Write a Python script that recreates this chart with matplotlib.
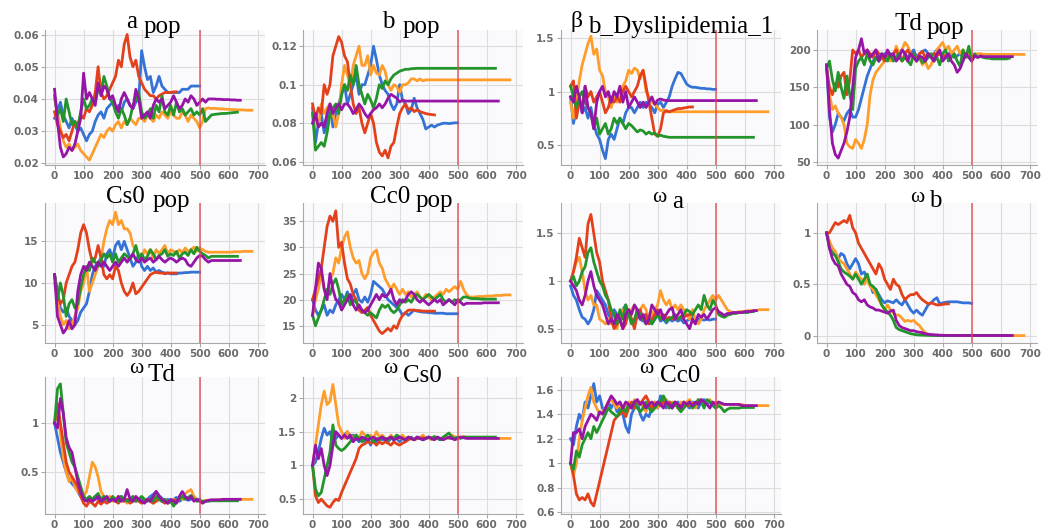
import numpy as np
import matplotlib.pyplot as plt
from matplotlib import transforms
from matplotlib.ticker import FuncFormatter

plt.rcParams['font.family'] = 'DejaVu Sans'
plt.rcParams['font.weight'] = 'bold'

# iteration grid shared by all chains (every 10th iteration)
ITER = np.arange(0, 700, 10)

# ---- a pop ----
apop_blue = [0.034, 0.036, 0.039, 0.035, 0.033, 0.031, 0.034, 0.032, 0.030, 0.031,
             0.029, 0.027, 0.029, 0.030, 0.033, 0.035, 0.036, 0.034, 0.037, 0.038,
             0.039, 0.037, 0.038, 0.036, 0.039, 0.040, 0.038, 0.037, 0.039, 0.040,
             0.055, 0.050, 0.046, 0.047, 0.042, 0.044, 0.047, 0.044, 0.043, 0.042,
             0.042, 0.042, 0.042, 0.042, 0.043, 0.043, 0.043, 0.044, 0.044, 0.044,
             0.044]
apop_orange = [0.040, 0.036, 0.031, 0.027, 0.025, 0.026, 0.024, 0.025, 0.026, 0.024,
               0.023, 0.022, 0.021, 0.023, 0.025, 0.027, 0.029, 0.028, 0.030, 0.031,
               0.030, 0.032, 0.033, 0.031, 0.033, 0.032, 0.034, 0.033, 0.032, 0.034,
               0.034, 0.033, 0.035, 0.034, 0.033, 0.035, 0.034, 0.036, 0.035, 0.034,
               0.036, 0.035, 0.034, 0.034, 0.036, 0.035, 0.033, 0.035, 0.034, 0.033,
               0.031, 0.033, 0.037, 0.0372, 0.037, 0.0371, 0.037, 0.0369, 0.0369, 0.0368,
               0.0368, 0.0367, 0.0367, 0.0366, 0.0366, 0.0366, 0.0365, 0.0365, 0.0365]
apop_red = [0.036, 0.032, 0.030, 0.028, 0.029, 0.027, 0.030, 0.033, 0.032, 0.035,
            0.034, 0.037, 0.036, 0.038, 0.042, 0.050, 0.042, 0.040, 0.041, 0.043,
            0.045, 0.047, 0.052, 0.050, 0.057, 0.060, 0.053, 0.050, 0.052, 0.047,
            0.045, 0.043, 0.042, 0.041, 0.041, 0.040, 0.041, 0.0415, 0.042, 0.042,
            0.042, 0.0422, 0.0422]
apop_green = [0.041, 0.035, 0.037, 0.033, 0.040, 0.036, 0.032, 0.033, 0.031, 0.036,
              0.040, 0.037, 0.038, 0.040, 0.039, 0.043, 0.042, 0.047, 0.044, 0.040,
              0.039, 0.036, 0.034, 0.037, 0.035, 0.032, 0.034, 0.038, 0.040, 0.042,
              0.036, 0.034, 0.035, 0.037, 0.034, 0.038, 0.036, 0.041, 0.036, 0.035,
              0.038, 0.035, 0.039, 0.036, 0.037, 0.035, 0.036, 0.037, 0.035, 0.036,
              0.035, 0.037, 0.033, 0.034, 0.035, 0.0352, 0.0353, 0.0354, 0.0355, 0.0355,
              0.0356, 0.0357, 0.0358, 0.0359]
apop_purple = [0.043, 0.033, 0.025, 0.022, 0.023, 0.025, 0.024, 0.026, 0.030, 0.034,
               0.048, 0.040, 0.042, 0.040, 0.038, 0.045, 0.041, 0.044, 0.043, 0.040,
               0.041, 0.038, 0.036, 0.040, 0.042, 0.040, 0.038, 0.037, 0.043, 0.040,
               0.034, 0.035, 0.036, 0.034, 0.038, 0.040, 0.039, 0.040, 0.037, 0.038,
               0.039, 0.041, 0.039, 0.037, 0.038, 0.040, 0.039, 0.041, 0.040, 0.038,
               0.039, 0.040, 0.039, 0.040, 0.040, 0.040, 0.0399, 0.0399, 0.0398, 0.0398,
               0.0398, 0.0397, 0.0397, 0.0396, 0.0396]

# ---- b pop ----
bpop_blue = [0.088, 0.070, 0.080, 0.085, 0.075, 0.080, 0.090, 0.078, 0.085, 0.090,
             0.095, 0.100, 0.090, 0.095, 0.100, 0.105, 0.095, 0.100, 0.100, 0.105,
             0.110, 0.120, 0.113, 0.105, 0.100, 0.097, 0.095, 0.090, 0.087, 0.090,
             0.100, 0.092, 0.090, 0.085, 0.087, 0.093, 0.088, 0.085, 0.082, 0.077,
             0.078, 0.079, 0.078, 0.079, 0.0795, 0.080, 0.080, 0.0798, 0.080, 0.0802,
             0.0802]
bpop_orange = [0.080, 0.083, 0.078, 0.090, 0.085, 0.088, 0.090, 0.085, 0.078, 0.085,
               0.100, 0.110, 0.105, 0.100, 0.110, 0.115, 0.120, 0.110, 0.110, 0.115,
               0.105, 0.110, 0.106, 0.105, 0.110, 0.107, 0.100, 0.097, 0.100, 0.099,
               0.096, 0.100, 0.100, 0.101, 0.103, 0.103, 0.102, 0.103, 0.102, 0.1025,
               0.1025, 0.1025, 0.1025, 0.1025, 0.1025, 0.1025, 0.1025, 0.1025, 0.1025, 0.1025,
               0.1025, 0.1025, 0.1025, 0.1025, 0.1025, 0.1025, 0.1025, 0.1025, 0.1025, 0.1025,
               0.1025, 0.1025, 0.1025, 0.1025, 0.1025, 0.1025, 0.1025, 0.1025, 0.1025]
bpop_red = [0.090, 0.082, 0.088, 0.085, 0.100, 0.095, 0.100, 0.115, 0.120, 0.125,
            0.122, 0.115, 0.112, 0.100, 0.090, 0.085, 0.088, 0.080, 0.075, 0.080,
            0.085, 0.080, 0.070, 0.065, 0.063, 0.066, 0.062, 0.068, 0.070, 0.078,
            0.085, 0.088, 0.090, 0.087, 0.088, 0.086, 0.087, 0.086, 0.0855, 0.085,
            0.0847, 0.0845, 0.0843]
bpop_green = [0.085, 0.066, 0.068, 0.070, 0.068, 0.075, 0.085, 0.088, 0.090, 0.085,
              0.095, 0.100, 0.097, 0.105, 0.100, 0.110, 0.100, 0.095, 0.090, 0.095,
              0.092, 0.088, 0.093, 0.100, 0.098, 0.102, 0.100, 0.103, 0.105, 0.106,
              0.107, 0.1075, 0.108, 0.108, 0.1083, 0.1084, 0.1085, 0.1085, 0.1085, 0.1085,
              0.1085, 0.1085, 0.1085, 0.1085, 0.1085, 0.1085, 0.1085, 0.1085, 0.1085, 0.1085,
              0.1085, 0.1085, 0.1085, 0.1085, 0.1085, 0.1085, 0.1085, 0.1085, 0.1085, 0.1085,
              0.1085, 0.1085, 0.1085, 0.1085]
bpop_purple = [0.080, 0.085, 0.078, 0.080, 0.078, 0.085, 0.090, 0.085, 0.088, 0.090,
               0.087, 0.090, 0.090, 0.088, 0.085, 0.087, 0.090, 0.088, 0.085, 0.083,
               0.085, 0.087, 0.088, 0.090, 0.088, 0.090, 0.093, 0.095, 0.094, 0.093,
               0.091, 0.092, 0.0915, 0.0915, 0.0915, 0.0915, 0.0915, 0.0915, 0.0915, 0.0915,
               0.0915, 0.0915, 0.0915, 0.0915, 0.0915, 0.0915, 0.0915, 0.0915, 0.0915, 0.0915,
               0.0915, 0.0915, 0.0915, 0.0915, 0.0915, 0.0915, 0.0915, 0.0915, 0.0915, 0.0915,
               0.0915, 0.0915, 0.0915, 0.0915, 0.0915]

# ---- beta b_Dyslipidemia_1 ----
beta_blue = [0.95, 0.70, 0.85, 0.95, 0.80, 0.85, 0.75, 0.85, 0.70, 0.60,
             0.55, 0.45, 0.37, 0.55, 0.60, 0.55, 0.65, 0.75, 0.70, 0.80,
             0.85, 0.85, 0.80, 0.85, 0.90, 0.85, 0.90, 0.88, 0.85, 0.80,
             0.88, 0.90, 0.85, 0.90, 0.95, 1.05, 1.12, 1.18, 1.17, 1.12,
             1.07, 1.05, 1.04, 1.04, 1.035, 1.03, 1.03, 1.025, 1.025, 1.02,
             1.02]
beta_orange = [0.90, 0.75, 0.90, 1.10, 1.25, 1.35, 1.45, 1.52, 1.35, 1.40,
               1.20, 1.15, 1.00, 0.95, 0.85, 0.95, 0.90, 0.95, 1.05, 1.10,
               1.20, 1.17, 1.22, 1.20, 1.12, 1.20, 1.00, 0.95, 0.90, 0.88,
               0.85, 0.82, 0.83, 0.81, 0.81, 0.81, 0.81, 0.81, 0.81, 0.81,
               0.81, 0.81, 0.81, 0.81, 0.81, 0.81, 0.81, 0.81, 0.81, 0.81,
               0.81, 0.81, 0.81, 0.81, 0.81, 0.81, 0.81, 0.81, 0.81, 0.81,
               0.81, 0.81, 0.81, 0.81, 0.81, 0.81, 0.81, 0.81, 0.81]
beta_red = [1.05, 1.10, 0.75, 0.90, 0.85, 1.05, 0.95, 1.00, 0.90, 0.95,
            1.00, 0.90, 0.80, 0.85, 0.95, 0.90, 0.95, 0.90, 1.00, 1.05,
            1.00, 0.95, 1.00, 1.05, 1.15, 1.20, 1.05, 0.90, 0.75, 0.60,
            0.58, 0.65, 0.80, 0.82, 0.81, 0.82, 0.83, 0.84, 0.84, 0.845,
            0.85, 0.855, 0.855]
beta_green = [1.05, 0.95, 0.85, 0.95, 1.00, 0.90, 0.85, 0.80, 0.65, 0.75,
              0.60, 0.65, 0.70, 0.60, 0.65, 0.75, 0.70, 0.75, 0.70, 0.65,
              0.70, 0.68, 0.65, 0.62, 0.64, 0.63, 0.60, 0.62, 0.60, 0.61,
              0.58, 0.59, 0.58, 0.575, 0.57, 0.57, 0.57, 0.57, 0.57, 0.57,
              0.57, 0.57, 0.57, 0.57, 0.57, 0.57, 0.57, 0.57, 0.57, 0.57,
              0.57, 0.57, 0.57, 0.57, 0.57, 0.57, 0.57, 0.57, 0.57, 0.57,
              0.57, 0.57, 0.57, 0.57]
beta_purple = [0.95, 0.90, 1.05, 0.95, 0.80, 1.05, 0.85, 0.80, 0.65, 0.90,
               1.00, 1.05, 0.95, 1.00, 0.90, 1.00, 0.95, 1.05, 0.90, 1.00,
               0.85, 0.90, 0.95, 0.90, 0.85, 0.90, 0.85, 0.90, 0.95, 0.88,
               0.92, 0.93, 0.92, 0.915, 0.915, 0.915, 0.915, 0.915, 0.915, 0.915,
               0.915, 0.915, 0.915, 0.915, 0.915, 0.915, 0.915, 0.915, 0.915, 0.915,
               0.915, 0.915, 0.915, 0.915, 0.915, 0.915, 0.915, 0.915, 0.915, 0.915,
               0.915, 0.915, 0.915, 0.915, 0.915]

# ---- Td pop ----
tdpop_blue = [180, 110, 90, 100, 115, 110, 105, 115, 120, 110,
              110, 120, 135, 150, 165, 175, 185, 190, 185, 190,
              195, 190, 195, 188, 190, 195, 200, 195, 190, 195,
              200, 190, 195, 198, 200, 195, 193, 195, 200, 195,
              192, 190, 195, 193, 190, 192, 195, 190, 192, 190,
              191]
tdpop_orange = [175, 140, 120, 125, 115, 110, 100, 75, 70, 68,
                80, 75, 68, 80, 100, 140, 160, 170, 175, 180,
                185, 190, 185, 190, 205, 195, 200, 210, 205, 195,
                190, 185, 190, 180, 185, 175, 180, 190, 200, 205,
                210, 200, 205, 195, 200, 205, 195, 200, 190, 195,
                190, 193, 195, 195, 194, 194, 194, 194, 194, 194,
                194, 194, 194, 194, 194, 194, 194, 194, 194]
tdpop_red = [175, 150, 140, 155, 150, 165, 170, 140, 160, 200,
             195, 200, 190, 195, 200, 195, 190, 200, 195, 190,
             185, 195, 190, 195, 200, 190, 185, 195, 200, 192,
             195, 188, 195, 198, 190, 195, 190, 195, 192, 195,
             193, 192, 193]
tdpop_green = [175, 185, 160, 145, 170, 150, 135, 165, 140, 120,
               175, 185, 190, 180, 195, 185, 180, 190, 185, 195,
               190, 185, 195, 185, 190, 195, 185, 190, 185, 180,
               195, 185, 190, 183, 185, 190, 195, 185, 190, 180,
               195, 200, 185, 190, 195, 185, 178, 200, 190, 205,
               185, 195, 190, 191, 190, 189, 189, 188, 188, 188,
               188, 188, 188, 189]
tdpop_purple = [180, 120, 75, 60, 55, 65, 75, 90, 110, 150,
                190, 200, 215, 195, 200, 190, 195, 200, 185, 195,
                190, 200, 192, 195, 185, 190, 200, 195, 185, 195,
                190, 185, 192, 190, 185, 195, 190, 185, 195, 200,
                185, 190, 195, 185, 180, 170, 175, 185, 195, 190,
                185, 192, 190, 192, 191, 191, 191, 191, 191, 191,
                191, 191, 191, 191, 191]

# ---- Cs0 pop ----
cs0pop_blue = [11, 9, 7, 6.5, 7, 6, 5.5, 5, 5.5, 6.5,
               7, 7.5, 9, 11, 12, 12.5, 13, 12, 13.5, 14,
               13, 14.5, 15, 14, 15, 14, 13, 12, 12.5, 13.5,
               12, 11.5, 12, 11.5, 11.8, 11.3, 11.5, 11.3, 11.2, 11.2,
               11.1, 11.1, 11.1, 11.2, 11.2, 11.25, 11.25, 11.3, 11.3, 11.3,
               11.3]
cs0pop_orange = [10, 8, 6, 5, 5.5, 4.5, 5, 6, 7, 9,
                 10, 12, 9, 10, 11, 12, 13, 15, 16.5, 17.5,
                 17, 18.5, 17, 17.5, 16.5, 16.5, 16, 14.5, 14, 13.5,
                 13, 14, 13.5, 14, 13, 14, 13.5, 14, 14.5, 13.5,
                 14, 13.8, 13.5, 14, 13.6, 14.2, 13.8, 14, 14.3, 13.8,
                 14.2, 14, 13.8, 13.7, 13.7, 13.7, 13.7, 13.7, 13.7, 13.7,
                 13.7, 13.7, 13.75, 13.75, 13.75, 13.8, 13.8, 13.8, 13.8]
cs0pop_red = [11, 8.5, 7.5, 8, 10, 11, 12, 12.5, 14, 16,
              17, 16, 14, 12.5, 13, 14.5, 13, 11, 10.5, 11,
              10.5, 12, 11.5, 10, 9, 8.5, 9, 10, 8.7, 9,
              9.5, 10, 10.5, 11, 11.2, 11.3, 11.2, 11.2, 11.1, 11.2,
              11.2, 11.2, 11.2]
cs0pop_green = [11, 8, 10, 8.5, 6, 7.5, 8, 7, 7.5, 9.5,
                11, 12, 11.5, 13, 12.5, 12, 12.8, 13.5, 13, 13.5,
                12.5, 13.5, 12.5, 13, 13.5, 13.2, 12.8, 13.5, 14.5, 13,
                13.5, 12.8, 13.2, 14, 13.5, 12.8, 13.3, 13.5, 14, 13.2,
                13.5, 13.3, 13.8, 13, 13.5, 13.7, 13.3, 14, 13.5, 14.3,
                13.8, 13.5, 13.3, 13, 13.2, 13.2, 13.2, 13.2, 13.2, 13.2,
                13.2, 13.2, 13.2, 13.2]
cs0pop_purple = [11, 6, 5, 4, 4.5, 5.5, 4.5, 5, 9, 11,
                 12, 11.5, 12.5, 12, 11.5, 12.5, 12, 12.5, 12, 11.5,
                 12, 12.5, 12, 12.5, 13, 12.5, 13, 13.5, 12.8, 12.5,
                 13, 12.5, 12.8, 13, 12.5, 12.8, 13.2, 12.8, 12.5, 12.8,
                 13, 12.8, 12.5, 12.8, 13, 12.8, 12.2, 12, 12.5, 13,
                 13.3, 13.2, 12.8, 12.5, 12.7, 12.7, 12.7, 12.7, 12.7, 12.7,
                 12.7, 12.7, 12.7, 12.7, 12.7]

# ---- Cc0 pop ----
cc0pop_blue = [20, 18, 17, 18, 19, 17, 18, 17.5, 19, 20,
               21, 20, 21.5, 20, 21, 22, 20, 19.5, 20.5, 19.5,
               21, 23.5, 23, 22.5, 22, 21, 20, 19.5, 19, 18.5,
               18, 17, 17.5, 17, 17.5, 18, 17.8, 17.7, 17.6, 17.6,
               17.5, 17.5, 17.4, 17.4, 17.4, 17.4, 17.3, 17.3, 17.3, 17.3,
               17.3]
cc0pop_orange = [17, 20, 22, 25, 22, 21, 24, 25, 28, 27,
                 30, 32, 33, 30, 28, 27, 27.5, 25, 24, 25,
                 28, 29, 29.5, 27, 26, 24, 23, 22, 23, 22,
                 21, 22, 21, 21.5, 20.5, 21, 21.5, 20.5, 20, 21,
                 20.5, 20, 20.5, 21, 21.5, 21, 22, 21.5, 22, 22.5,
                 22, 23.5, 22, 21, 20.5, 20.5, 20.5, 20.6, 20.6, 20.6,
                 20.7, 20.7, 20.7, 20.8, 20.8, 20.8, 20.9, 20.9, 20.9]
cc0pop_red = [20, 22, 24, 26, 30, 34, 36, 35, 37, 30,
              31, 27, 24, 23, 21, 20, 18, 17.5, 18, 18.5,
              17, 16, 15, 14, 13.5, 14, 14.5, 14, 15, 14.5,
              16, 17, 17.5, 18, 18, 18, 17.9, 17.9, 17.8, 17.8,
              17.8, 17.8, 17.8]
cc0pop_green = [17, 15, 16.5, 18, 20, 22, 21, 23, 24, 22,
                19, 20, 21, 19, 20, 19.5, 18.5, 18, 17.5, 17,
                17.5, 17, 16.5, 18, 19, 18.5, 19, 18, 17.5, 18,
                19, 20, 19.5, 20, 19.5, 20.5, 21, 20.5, 20, 20.5,
                21, 20.5, 20, 20.5, 21, 20, 19.5, 20, 19.5, 20,
                19.5, 20, 20.5, 20.5, 20.3, 20.2, 20.2, 20.2, 20.1, 20.1,
                20.1, 20.1, 20.1, 20.1]
cc0pop_purple = [17, 22, 27, 26, 22, 20, 25, 22, 20, 19.5,
                 18, 19, 20, 21, 19, 18, 19, 18, 17.5, 18,
                 19, 20, 21, 20, 21, 20.5, 21, 22, 20, 19,
                 20, 19.5, 20, 21, 21.5, 21, 20, 19.5, 20, 19.5,
                 19, 19.5, 20, 19.5, 20, 19, 19.5, 20, 19.5, 19,
                 20, 19.5, 19, 19.3, 19.3, 19.3, 19.3, 19.3, 19.3, 19.4,
                 19.4, 19.4, 19.4, 19.4, 19.4]

# ---- omega a ----
wa_blue = [0.95, 0.85, 0.80, 0.70, 0.62, 0.60, 0.55, 0.60, 0.70, 0.90,
           0.85, 0.80, 0.75, 0.65, 0.60, 0.70, 0.65, 0.60, 0.70, 0.75,
           0.65, 0.60, 0.55, 0.65, 0.60, 0.58, 0.65, 0.60, 0.55, 0.60,
           0.65, 0.58, 0.60, 0.56, 0.60, 0.58, 0.60, 0.58, 0.60, 0.56,
           0.58, 0.60, 0.62, 0.58, 0.60, 0.60, 0.59, 0.60, 0.59, 0.60,
           0.60]
wa_orange = [1.00, 1.10, 1.20, 1.25, 1.10, 0.90, 0.80, 0.85, 0.75, 0.75,
             0.60, 0.58, 0.55, 0.60, 0.55, 0.60, 0.50, 0.65, 0.70, 0.60,
             0.65, 0.70, 0.75, 0.65, 0.70, 0.75, 0.70, 0.60, 0.65, 0.70,
             0.75, 0.90, 0.80, 0.75, 0.80, 0.70, 0.75, 0.70, 0.75, 0.70,
             0.65, 0.60, 0.70, 0.60, 0.55, 0.60, 0.70, 0.75, 0.80, 0.85,
             0.80, 0.85, 0.80, 0.75, 0.70, 0.68, 0.67, 0.67, 0.68, 0.68,
             0.68, 0.69, 0.69, 0.69, 0.69, 0.70, 0.70, 0.70, 0.70]
wa_red = [1.00, 1.10, 1.25, 1.45, 1.35, 1.25, 1.60, 1.70, 1.50, 1.30,
          1.20, 1.00, 0.90, 0.80, 0.60, 0.50, 0.55, 0.60, 0.50, 0.55,
          0.70, 0.60, 0.50, 0.65, 0.70, 0.60, 0.65, 0.55, 0.60, 0.65,
          0.70, 0.60, 0.65, 0.60, 0.62, 0.60, 0.62, 0.60, 0.63, 0.62,
          0.64, 0.65, 0.65]
wa_green = [1.00, 1.05, 0.95, 1.00, 1.10, 1.15, 1.30, 1.35, 1.20, 1.10,
            1.00, 0.95, 0.85, 0.80, 0.70, 0.65, 0.55, 0.70, 0.60, 0.75,
            0.65, 0.55, 0.60, 0.70, 0.65, 0.60, 0.55, 0.60, 0.55, 0.60,
            0.65, 0.60, 0.62, 0.58, 0.60, 0.62, 0.65, 0.60, 0.62, 0.65,
            0.70, 0.68, 0.65, 0.70, 0.75, 0.70, 0.85, 0.75, 0.70, 0.80,
            0.75, 0.65, 0.63, 0.62, 0.64, 0.65, 0.66, 0.66, 0.67, 0.67,
            0.67, 0.67, 0.68, 0.68]
wa_purple = [1.00, 0.95, 0.90, 0.80, 0.75, 0.85, 1.00, 1.10, 0.95, 0.85,
             0.80, 0.75, 0.65, 0.55, 0.60, 0.55, 0.65, 0.60, 0.50, 0.65,
             0.70, 0.65, 0.75, 0.70, 0.60, 0.65, 0.55, 0.60, 0.75, 0.70,
             0.65, 0.70, 0.60, 0.65, 0.70, 0.72, 0.60, 0.65, 0.70, 0.60,
             0.55, 0.50, 0.60, 0.55, 0.65, 0.62, 0.65, 0.60, 0.65, 0.70,
             0.72, 0.68, 0.66, 0.64, 0.66, 0.66, 0.67, 0.67, 0.67, 0.67,
             0.68, 0.68, 0.68, 0.69, 0.69]

# ---- omega b ----
wb_blue = [1.00, 0.90, 0.85, 0.80, 0.75, 0.80, 0.78, 0.70, 0.65, 0.70,
           0.75, 0.70, 0.60, 0.62, 0.55, 0.50, 0.42, 0.45, 0.40, 0.35,
           0.32, 0.34, 0.33, 0.32, 0.35, 0.32, 0.30, 0.35, 0.30, 0.25,
           0.22, 0.25, 0.22, 0.20, 0.25, 0.30, 0.32, 0.35, 0.37, 0.31,
           0.32, 0.325, 0.33, 0.33, 0.33, 0.33, 0.325, 0.32, 0.32, 0.32,
           0.315]
wb_orange = [1.00, 0.92, 0.85, 0.82, 0.75, 0.72, 0.70, 0.65, 0.60, 0.55,
             0.62, 0.58, 0.55, 0.50, 0.55, 0.48, 0.45, 0.40, 0.35, 0.30,
             0.25, 0.30, 0.25, 0.22, 0.20, 0.20, 0.17, 0.14, 0.15, 0.14,
             0.15, 0.12, 0.10, 0.06, 0.03, 0.015, 0.01, 0.005, 0.003, 0.002,
             0.002, 0.002, 0.002, 0.002, 0.002, 0.002, 0.002, 0.002, 0.002, 0.002,
             0.002, 0.002, 0.002, 0.002, 0.002, 0.002, 0.002, 0.002, 0.002, 0.002,
             0.002, 0.002, 0.002, 0.002, 0.002, 0.002, 0.002, 0.002, 0.002]
wb_red = [1.00, 1.00, 1.05, 1.10, 1.08, 1.10, 1.12, 1.10, 1.17, 1.05,
          1.00, 0.90, 0.85, 0.80, 0.75, 0.70, 0.65, 0.60, 0.70, 0.65,
          0.55, 0.50, 0.45, 0.55, 0.50, 0.48, 0.40, 0.35, 0.38, 0.40,
          0.40, 0.42, 0.38, 0.35, 0.33, 0.31, 0.32, 0.31, 0.30, 0.30,
          0.305, 0.31, 0.31]
wb_green = [1.00, 0.85, 0.80, 0.78, 0.72, 0.65, 0.62, 0.60, 0.58, 0.55,
            0.60, 0.55, 0.50, 0.55, 0.60, 0.50, 0.48, 0.45, 0.38, 0.30,
            0.26, 0.23, 0.20, 0.15, 0.08, 0.06, 0.05, 0.04, 0.03, 0.02,
            0.015, 0.01, 0.008, 0.006, 0.005, 0.004, 0.003, 0.003, 0.002, 0.002,
            0.002, 0.002, 0.002, 0.002, 0.002, 0.002, 0.002, 0.002, 0.002, 0.002,
            0.002, 0.002, 0.002, 0.002, 0.002, 0.002, 0.002, 0.002, 0.002, 0.002,
            0.002, 0.002, 0.002, 0.002]
wb_purple = [1.00, 0.85, 0.75, 0.70, 0.68, 0.60, 0.55, 0.50, 0.48, 0.42,
             0.40, 0.35, 0.33, 0.35, 0.30, 0.28, 0.27, 0.25, 0.25, 0.24,
             0.23, 0.22, 0.24, 0.25, 0.15, 0.10, 0.08, 0.07, 0.06, 0.05,
             0.05, 0.04, 0.035, 0.03, 0.02, 0.015, 0.012, 0.01, 0.008, 0.006,
             0.005, 0.004, 0.004, 0.003, 0.003, 0.003, 0.003, 0.003, 0.003, 0.003,
             0.003, 0.003, 0.003, 0.003, 0.003, 0.003, 0.003, 0.003, 0.003, 0.003,
             0.003, 0.003, 0.003, 0.003, 0.003]

# ---- omega Td ----
wtd_blue = [1.00, 0.85, 0.70, 0.60, 0.50, 0.42, 0.38, 0.35, 0.30, 0.25,
            0.20, 0.22, 0.20, 0.22, 0.25, 0.22, 0.20, 0.23, 0.20, 0.22,
            0.24, 0.20, 0.22, 0.25, 0.20, 0.22, 0.20, 0.23, 0.20, 0.22,
            0.24, 0.20, 0.22, 0.25, 0.27, 0.30, 0.26, 0.23, 0.20, 0.22,
            0.20, 0.22, 0.24, 0.20, 0.22, 0.23, 0.21, 0.22, 0.24, 0.22,
            0.22]
wtd_orange = [1.00, 1.10, 0.90, 0.65, 0.50, 0.40, 0.45, 0.35, 0.30, 0.28,
              0.25, 0.30, 0.45, 0.60, 0.55, 0.45, 0.30, 0.25, 0.22, 0.25,
              0.20, 0.22, 0.25, 0.20, 0.22, 0.18, 0.22, 0.24, 0.20, 0.22,
              0.18, 0.20, 0.22, 0.20, 0.18, 0.22, 0.25, 0.20, 0.22, 0.18,
              0.20, 0.22, 0.20, 0.24, 0.22, 0.28, 0.30, 0.32, 0.25, 0.22,
              0.20, 0.20, 0.21, 0.21, 0.21, 0.21, 0.215, 0.215, 0.215, 0.215,
              0.215, 0.22, 0.22, 0.22, 0.22, 0.22, 0.22, 0.22, 0.22]
wtd_red = [1.00, 1.20, 1.00, 0.80, 0.60, 0.50, 0.45, 0.40, 0.35, 0.25,
           0.18, 0.15, 0.20, 0.18, 0.15, 0.20, 0.17, 0.20, 0.18, 0.20,
           0.22, 0.20, 0.18, 0.22, 0.20, 0.22, 0.18, 0.20, 0.22, 0.20,
           0.18, 0.20, 0.22, 0.20, 0.18, 0.20, 0.22, 0.20, 0.18, 0.20,
           0.20, 0.21, 0.21]
wtd_green = [1.00, 1.35, 1.40, 1.10, 0.80, 0.70, 0.60, 0.55, 0.45, 0.35,
             0.25, 0.22, 0.25, 0.22, 0.25, 0.28, 0.22, 0.25, 0.22, 0.20,
             0.25, 0.22, 0.20, 0.25, 0.22, 0.20, 0.22, 0.25, 0.20, 0.22,
             0.25, 0.22, 0.20, 0.22, 0.20, 0.25, 0.22, 0.20, 0.22, 0.18,
             0.20, 0.15, 0.20, 0.22, 0.25, 0.22, 0.24, 0.26, 0.22, 0.20,
             0.21, 0.20, 0.20, 0.20, 0.205, 0.205, 0.205, 0.205, 0.205, 0.205,
             0.205, 0.205, 0.205, 0.205]
wtd_purple = [1.00, 0.95, 1.25, 1.10, 0.85, 0.75, 0.70, 0.55, 0.40, 0.30,
              0.22, 0.20, 0.22, 0.20, 0.22, 0.25, 0.20, 0.22, 0.25, 0.20,
              0.22, 0.20, 0.25, 0.20, 0.22, 0.32, 0.22, 0.20, 0.25, 0.22,
              0.20, 0.18, 0.22, 0.20, 0.25, 0.30, 0.25, 0.22, 0.20, 0.18,
              0.22, 0.20, 0.18, 0.25, 0.30, 0.25, 0.22, 0.25, 0.20, 0.22,
              0.20, 0.18, 0.20, 0.21, 0.215, 0.215, 0.215, 0.215, 0.22, 0.22,
              0.22, 0.22, 0.22, 0.22, 0.22]

# ---- omega Cs0 ----
wcs0_blue = [1.00, 1.05, 1.20, 1.40, 1.55, 1.45, 1.50, 1.35, 1.40, 1.45,
             1.40, 1.45, 1.50, 1.40, 1.45, 1.40, 1.35, 1.40, 1.35, 1.40,
             1.30, 1.40, 1.35, 1.40, 1.38, 1.40, 1.35, 1.40, 1.38, 1.40,
             1.35, 1.40, 1.38, 1.40, 1.42, 1.38, 1.40, 1.42, 1.38, 1.40,
             1.42, 1.38, 1.40, 1.40, 1.38, 1.40, 1.42, 1.40, 1.40, 1.42,
             1.40]
wcs0_orange = [1.00, 1.30, 1.60, 1.90, 2.10, 1.90, 1.95, 2.20, 1.90, 1.60,
               1.50, 1.40, 1.50, 1.45, 1.40, 1.45, 1.40, 1.50, 1.45, 1.40,
               1.45, 1.40, 1.50, 1.42, 1.45, 1.40, 1.38, 1.45, 1.40, 1.42,
               1.40, 1.45, 1.40, 1.42, 1.40, 1.38, 1.42, 1.40, 1.45, 1.40,
               1.42, 1.38, 1.40, 1.42, 1.40, 1.38, 1.42, 1.40, 1.45, 1.42,
               1.40, 1.42, 1.43, 1.41, 1.41, 1.41, 1.41, 1.41, 1.41, 1.41,
               1.40, 1.40, 1.40, 1.40, 1.40, 1.40, 1.40, 1.40, 1.40]
wcs0_red = [1.00, 0.55, 0.45, 0.50, 0.45, 0.40, 0.38, 0.45, 0.50, 0.48,
            0.60, 0.70, 0.80, 0.90, 1.00, 1.10, 1.25, 1.30, 1.32, 1.35,
            1.33, 1.35, 1.30, 1.35, 1.32, 1.35, 1.33, 1.30, 1.35, 1.32,
            1.30, 1.33, 1.35, 1.38, 1.40, 1.38, 1.40, 1.40, 1.41, 1.40,
            1.41, 1.41, 1.41]
wcs0_green = [1.00, 0.65, 0.55, 0.60, 0.80, 1.00, 1.20, 1.60, 1.30, 1.25,
              1.22, 1.25, 1.30, 1.35, 1.40, 1.45, 1.40, 1.35, 1.40, 1.45,
              1.40, 1.35, 1.40, 1.38, 1.42, 1.40, 1.38, 1.42, 1.40, 1.45,
              1.42, 1.40, 1.38, 1.42, 1.40, 1.38, 1.42, 1.40, 1.38, 1.40,
              1.42, 1.40, 1.43, 1.40, 1.38, 1.42, 1.45, 1.48, 1.42, 1.40,
              1.42, 1.40, 1.42, 1.42, 1.42, 1.42, 1.42, 1.42, 1.42, 1.42,
              1.42, 1.42, 1.42, 1.42]
wcs0_purple = [1.00, 1.30, 1.10, 1.25, 1.00, 0.85, 1.00, 1.30, 1.50, 1.45,
               1.40, 1.45, 1.40, 1.45, 1.35, 1.40, 1.38, 1.42, 1.40, 1.38,
               1.40, 1.42, 1.38, 1.40, 1.42, 1.38, 1.40, 1.42, 1.38, 1.40,
               1.42, 1.40, 1.38, 1.42, 1.40, 1.38, 1.42, 1.40, 1.38, 1.40,
               1.42, 1.40, 1.38, 1.42, 1.40, 1.38, 1.40, 1.42, 1.40, 1.38,
               1.40, 1.42, 1.41, 1.40, 1.40, 1.40, 1.40, 1.40, 1.40, 1.40,
               1.40, 1.40, 1.40, 1.40, 1.40]

# ---- omega Cc0 ----
wcc0_blue = [1.20, 1.15, 1.30, 1.40, 1.35, 1.50, 1.45, 1.55, 1.65, 1.50,
             1.55, 1.45, 1.40, 1.50, 1.45, 1.50, 1.42, 1.45, 1.40, 1.30,
             1.25, 1.40, 1.45, 1.50, 1.40, 1.35, 1.40, 1.38, 1.45, 1.50,
             1.45, 1.55, 1.50, 1.45, 1.50, 1.45, 1.48, 1.50, 1.45, 1.50,
             1.48, 1.45, 1.50, 1.48, 1.45, 1.50, 1.52, 1.48, 1.50, 1.47,
             1.45]
wcc0_orange = [1.00, 0.90, 1.00, 1.20, 1.35, 1.45, 1.55, 1.62, 1.50, 1.45,
               1.40, 1.42, 1.45, 1.50, 1.52, 1.48, 1.45, 1.50, 1.42, 1.48,
               1.50, 1.45, 1.52, 1.48, 1.50, 1.45, 1.42, 1.48, 1.45, 1.50,
               1.45, 1.50, 1.48, 1.52, 1.45, 1.50, 1.48, 1.45, 1.50, 1.48,
               1.50, 1.52, 1.48, 1.45, 1.50, 1.52, 1.48, 1.50, 1.52, 1.48,
               1.50, 1.49, 1.48, 1.48, 1.48, 1.48, 1.48, 1.48, 1.48, 1.48,
               1.47, 1.47, 1.47, 1.47, 1.47, 1.47, 1.47, 1.47, 1.47]
wcc0_red = [1.00, 0.90, 0.75, 0.70, 0.72, 0.70, 0.75, 0.68, 0.65, 0.75,
            0.85, 0.95, 1.05, 1.15, 1.25, 1.35, 1.38, 1.40, 1.42, 1.38,
            1.45, 1.50, 1.45, 1.50, 1.48, 1.52, 1.55, 1.50, 1.45, 1.48,
            1.50, 1.47, 1.50, 1.48, 1.50, 1.48, 1.47, 1.48, 1.47, 1.47,
            1.47, 1.47, 1.47]
wcc0_green = [1.00, 0.95, 1.10, 1.05, 1.15, 1.20, 1.25, 1.20, 1.30, 1.25,
              1.30, 1.35, 1.40, 1.45, 1.42, 1.40, 1.38, 1.42, 1.45, 1.42,
              1.48, 1.45, 1.50, 1.45, 1.42, 1.45, 1.50, 1.45, 1.42, 1.45,
              1.48, 1.50, 1.55, 1.50, 1.45, 1.48, 1.50, 1.45, 1.42, 1.45,
              1.48, 1.50, 1.45, 1.48, 1.52, 1.50, 1.45, 1.52, 1.50, 1.48,
              1.45, 1.47, 1.45, 1.42, 1.44, 1.45, 1.45, 1.45, 1.45, 1.455,
              1.455, 1.455, 1.455, 1.455]
wcc0_purple = [1.00, 1.25, 1.25, 1.28, 1.20, 1.30, 1.35, 1.40, 1.38, 1.35,
               1.42, 1.40, 1.45, 1.50, 1.55, 1.52, 1.48, 1.50, 1.45, 1.50,
               1.48, 1.45, 1.50, 1.52, 1.48, 1.50, 1.45, 1.48, 1.50, 1.47,
               1.50, 1.48, 1.45, 1.50, 1.48, 1.45, 1.50, 1.48, 1.45, 1.50,
               1.48, 1.50, 1.47, 1.50, 1.48, 1.52, 1.50, 1.48, 1.45, 1.50,
               1.48, 1.50, 1.49, 1.48, 1.48, 1.48, 1.48, 1.48, 1.48, 1.47,
               1.47, 1.47, 1.47, 1.47, 1.47]

# chain colours in drawing order
chain_colors = ['#3572d6', '#ff9d2b', '#e2411b', '#23952b', '#9614a6']

# title parts: first token, second token
titles = [('a', 'pop'), ('b', 'pop'), ('\u03b2', 'b_Dyslipidemia_1'), ('Td', 'pop'),
          ('Cs0', 'pop'), ('Cc0', 'pop'), ('\u03c9', 'a'), ('\u03c9', 'b'),
          ('\u03c9', 'Td'), ('\u03c9', 'Cs0'), ('\u03c9', 'Cc0')]

yticks = [[0.02, 0.03, 0.04, 0.05, 0.06], [0.06, 0.08, 0.1, 0.12], [0.5, 1, 1.5],
          [50, 100, 150, 200], [5, 10, 15], [15, 20, 25, 30, 35], [0.5, 1, 1.5],
          [0, 0.5, 1], [0.5, 1], [0.5, 1, 1.5, 2], [0.6, 0.8, 1, 1.2, 1.4, 1.6]]

series = [
    [apop_blue, apop_orange, apop_red, apop_green, apop_purple],
    [bpop_blue, bpop_orange, bpop_red, bpop_green, bpop_purple],
    [beta_blue, beta_orange, beta_red, beta_green, beta_purple],
    [tdpop_blue, tdpop_orange, tdpop_red, tdpop_green, tdpop_purple],
    [cs0pop_blue, cs0pop_orange, cs0pop_red, cs0pop_green, cs0pop_purple],
    [cc0pop_blue, cc0pop_orange, cc0pop_red, cc0pop_green, cc0pop_purple],
    [wa_blue, wa_orange, wa_red, wa_green, wa_purple],
    [wb_blue, wb_orange, wb_red, wb_green, wb_purple],
    [wtd_blue, wtd_orange, wtd_red, wtd_green, wtd_purple],
    [wcs0_blue, wcs0_orange, wcs0_red, wcs0_green, wcs0_purple],
    [wcc0_blue, wcc0_orange, wcc0_red, wcc0_green, wcc0_purple],
]

# layout (pixels) --------------------------------------------------------
W, H = 1053, 530
col_left = [45, 303, 561, 817]
ax_w = 220
rows = [(30, 165), (203, 343), (377, 514)]
ylims = [(0.0195, 0.0614), (0.0583, 0.1284), (0.31, 1.578), (45.8, 226.7),
         (2.8, 19.6), (11.7, 38.5), (0.35, 1.82), (-0.07, 1.29),
         (0.07, 1.47), (0.28, 2.31), (0.585, 1.704)]
# split position, first-token baseline above axes top (px), drop of second token (px), gap (px), first size
title_pos = [(0.418, 2, 5, 7, 18), (0.418, 2, 5, 8, 18), (0.10, 3, 6, 5, 17), (0.477, 0, 4, 5, 18),
             (0.455, 0, 4, 7, 18), (0.486, 0, 4, 6, 18), (0.48, 1, 6, 6, 15.5), (0.49, 1, 5, 4, 15.5),
             (0.445, 4, 8, 5, 15.5), (0.427, 4, 9, 6, 15.5), (0.418, 4, 9, 7, 15.5)]

fig = plt.figure(figsize=(W / 100, H / 100), dpi=100)

for i in range(11):
    r, c = divmod(i, 4)
    top, bot = rows[r]
    ax = fig.add_axes([col_left[c] / W, 1 - bot / H, ax_w / W, (bot - top) / H])
    ax.set_facecolor('#fafafd')

    for ys, col in zip(series[i], chain_colors):
        ax.plot(ITER[:len(ys)], ys, color=col, lw=2.0, zorder=2)
    ax.axvline(500, color='#e4454b', lw=1.2, alpha=0.8, zorder=3)

    ax.set_xlim(-33, 725)
    ax.set_ylim(*ylims[i])
    ax.set_xticks(range(0, 701, 100))
    ax.set_yticks(yticks[i])
    ax.yaxis.set_major_formatter(FuncFormatter(lambda v, p: f'{v:g}'))
    ax.grid(color='#dcdcdc', lw=0.8)
    ax.set_axisbelow(True)
    for s in ['top', 'right']:
        ax.spines[s].set_visible(False)
    for s in ['left', 'bottom']:
        ax.spines[s].set_color('#a8a8a8')
        ax.spines[s].set_linewidth(0.8)
    ax.tick_params(direction='out', length=3, width=0.8, color='#a8a8a8',
                   labelcolor='#6a6a6a', labelsize=7.5, pad=1.5)

    first, second = titles[i]
    split, y1, dy, gap, size1 = title_pos[i]
    t1 = transforms.offset_copy(ax.transAxes, fig=fig, x=0, y=y1, units='dots')
    t2 = transforms.offset_copy(ax.transAxes, fig=fig, x=gap, y=y1 - dy, units='dots')
    ax.text(split, 1, first, transform=t1, ha='right', va='baseline',
            family='Liberation Serif', fontweight='normal', fontsize=size1, zorder=6)
    ax.text(split, 1, second, transform=t2, ha='left', va='baseline',
            family='Liberation Serif', fontweight='normal', fontsize=18, zorder=6)

fig.savefig('out.png', dpi=100)
